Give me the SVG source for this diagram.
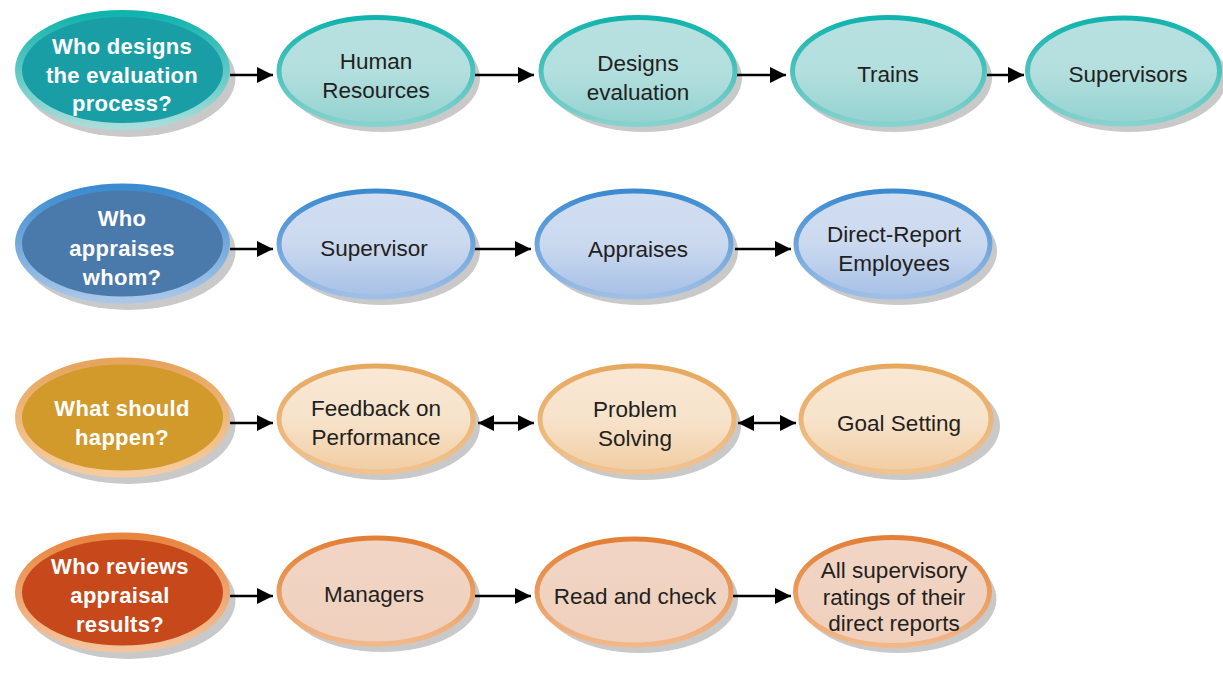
<svg xmlns="http://www.w3.org/2000/svg" width="1223" height="675" viewBox="0 0 1223 675">
<defs>
<linearGradient id="q1s" x1="0" y1="0" x2="0" y2="1"><stop offset="0" stop-color="#10b3ad"/><stop offset="1" stop-color="#a9ddda"/></linearGradient>
<linearGradient id="s1f" x1="0" y1="0" x2="0" y2="1"><stop offset="0" stop-color="#b8e1e0"/><stop offset="0.5" stop-color="#b3dfde"/><stop offset="1" stop-color="#93d2d0"/></linearGradient>
<linearGradient id="s1s" x1="0" y1="0" x2="0" y2="1"><stop offset="0" stop-color="#10b3ad"/><stop offset="1" stop-color="#86d2ce"/></linearGradient>
<linearGradient id="q2s" x1="0" y1="0" x2="0" y2="1"><stop offset="0" stop-color="#3a8bd0"/><stop offset="1" stop-color="#aac7e8"/></linearGradient>
<linearGradient id="s2f" x1="0" y1="0" x2="0" y2="1"><stop offset="0" stop-color="#d2def1"/><stop offset="0.5" stop-color="#cbd9ef"/><stop offset="1" stop-color="#a6c0e6"/></linearGradient>
<linearGradient id="s2s" x1="0" y1="0" x2="0" y2="1"><stop offset="0" stop-color="#3b8ad0"/><stop offset="1" stop-color="#9fbfe6"/></linearGradient>
<linearGradient id="q3s" x1="0" y1="0" x2="0" y2="1"><stop offset="0" stop-color="#e6a45c"/><stop offset="1" stop-color="#f6cc9e"/></linearGradient>
<linearGradient id="s3f" x1="0" y1="0" x2="0" y2="1"><stop offset="0" stop-color="#f9e8d4"/><stop offset="0.5" stop-color="#f7e3cb"/><stop offset="1" stop-color="#f1cda2"/></linearGradient>
<linearGradient id="s3s" x1="0" y1="0" x2="0" y2="1"><stop offset="0" stop-color="#e7a85e"/><stop offset="1" stop-color="#f1c290"/></linearGradient>
<linearGradient id="q4s" x1="0" y1="0" x2="0" y2="1"><stop offset="0" stop-color="#e8853f"/><stop offset="1" stop-color="#f4c49c"/></linearGradient>
<linearGradient id="s4f" x1="0" y1="0" x2="0" y2="1"><stop offset="0" stop-color="#f1d5c5"/><stop offset="1" stop-color="#efd0bd"/></linearGradient>
<linearGradient id="s4s" x1="0" y1="0" x2="0" y2="1"><stop offset="0" stop-color="#e37f36"/><stop offset="1" stop-color="#f2b888"/></linearGradient>
<marker id="ah" markerUnits="userSpaceOnUse" markerWidth="16" markerHeight="16" refX="16" refY="8" orient="auto-start-reverse" viewBox="0 0 16 16"><path d="M0,0 L16,8 L0,16 z" fill="#000"/></marker>
</defs>
<style>
.sh{fill:#c9c9c9}
.q{stroke-width:7}
.s{stroke-width:5}
.qt{font-family:"Liberation Sans",Arial,sans-serif;font-weight:bold;font-size:22px;fill:#fff;text-anchor:middle;letter-spacing:0.3px}
.st{font-family:"Liberation Sans",Arial,sans-serif;font-size:22.5px;fill:#231f20;text-anchor:middle}
.c line{stroke:#000;stroke-width:2.5;marker-end:url(#ah)}
.c line.d{marker-start:url(#ah)}
</style>
<rect width="1223" height="675" fill="#fff"/>

<!-- Row 1 -->
<g id="q1"><ellipse class="sh" cx="128.5" cy="78" rx="107" ry="59"/><ellipse class="q" cx="122.5" cy="70" rx="104" ry="56.5" fill="#1a9ea6" stroke="url(#q1s)"/>
<text class="qt"><tspan x="122" y="54">Who designs</tspan><tspan x="122" y="83">the evaluation</tspan><tspan x="122" y="111">process?</tspan></text></g>
<g id="n_hr"><ellipse class="sh" cx="382" cy="78" rx="98" ry="54"/><ellipse class="s" cx="376" cy="71" rx="97" ry="53.5" fill="url(#s1f)" stroke="url(#s1s)"/>
<text class="st"><tspan x="376" y="69">Human</tspan><tspan x="376" y="98">Resources</tspan></text></g>
<g id="n_de"><ellipse class="sh" cx="644" cy="78" rx="98" ry="54"/><ellipse class="s" cx="638" cy="71" rx="97" ry="53.5" fill="url(#s1f)" stroke="url(#s1s)"/>
<text class="st"><tspan x="638" y="71">Designs</tspan><tspan x="638" y="100">evaluation</tspan></text></g>
<g id="n_tr"><ellipse class="sh" cx="894" cy="78" rx="98" ry="54"/><ellipse class="s" cx="888.5" cy="71" rx="96" ry="53.5" fill="url(#s1f)" stroke="url(#s1s)"/>
<text class="st"><tspan x="888" y="82">Trains</tspan></text></g>
<g id="n_su"><ellipse class="sh" cx="1129" cy="78" rx="98" ry="54"/><ellipse class="s" cx="1123.5" cy="71" rx="96" ry="53" fill="url(#s1f)" stroke="url(#s1s)"/>
<text class="st"><tspan x="1128" y="82">Supervisors</tspan></text></g>

<!-- Row 2 -->
<g id="q2"><ellipse class="sh" cx="128.5" cy="251" rx="107" ry="59"/><ellipse class="q" cx="122.5" cy="243.5" rx="104" ry="56.5" fill="#4a79ab" stroke="url(#q2s)"/>
<text class="qt"><tspan x="122" y="226">Who</tspan><tspan x="122" y="256">appraises</tspan><tspan x="122" y="285">whom?</tspan></text></g>
<g id="n_sv"><ellipse class="sh" cx="382" cy="251" rx="98" ry="54"/><ellipse class="s" cx="376" cy="244" rx="97" ry="53" fill="url(#s2f)" stroke="url(#s2s)"/>
<text class="st"><tspan x="374" y="256">Supervisor</tspan></text></g>
<g id="n_ap"><ellipse class="sh" cx="640" cy="251" rx="98" ry="54"/><ellipse class="s" cx="634" cy="244" rx="97" ry="53" fill="url(#s2f)" stroke="url(#s2s)"/>
<text class="st"><tspan x="638" y="257">Appraises</tspan></text></g>
<g id="n_dr"><ellipse class="sh" cx="899" cy="251" rx="98" ry="54"/><ellipse class="s" cx="893" cy="244" rx="97" ry="53" fill="url(#s2f)" stroke="url(#s2s)"/>
<text class="st"><tspan x="894" y="242">Direct-Report</tspan><tspan x="894" y="271">Employees</tspan></text></g>

<!-- Row 3 -->
<g id="q3"><ellipse class="sh" cx="128.5" cy="425" rx="107" ry="59"/><ellipse class="q" cx="122.5" cy="417.5" rx="104" ry="56.5" fill="#d2992b" stroke="url(#q3s)"/>
<text class="qt"><tspan x="122" y="416">What should</tspan><tspan x="122" y="445">happen?</tspan></text></g>
<g id="n_fb"><ellipse class="sh" cx="382" cy="426" rx="98" ry="54"/><ellipse class="s" cx="376" cy="419" rx="97" ry="53" fill="url(#s3f)" stroke="url(#s3s)"/>
<text class="st"><tspan x="376" y="416">Feedback on</tspan><tspan x="376" y="445">Performance</tspan></text></g>
<g id="n_ps"><ellipse class="sh" cx="643" cy="426" rx="98" ry="54"/><ellipse class="s" cx="637" cy="419" rx="97" ry="53" fill="url(#s3f)" stroke="url(#s3s)"/>
<text class="st"><tspan x="635" y="417">Problem</tspan><tspan x="635" y="446">Solving</tspan></text></g>
<g id="n_gs"><ellipse class="sh" cx="902" cy="426" rx="98" ry="54"/><ellipse class="s" cx="896" cy="419" rx="95" ry="53" fill="url(#s3f)" stroke="url(#s3s)"/>
<text class="st"><tspan x="899" y="431">Goal Setting</tspan></text></g>

<!-- Row 4 -->
<g id="q4"><ellipse class="sh" cx="128.5" cy="600" rx="107" ry="59"/><ellipse class="q" cx="122.5" cy="592.5" rx="104" ry="56.5" fill="#c7491b" stroke="url(#q4s)"/>
<text class="qt"><tspan x="120" y="574">Who reviews</tspan><tspan x="120" y="603">appraisal</tspan><tspan x="120" y="632">results?</tspan></text></g>
<g id="n_mg"><ellipse class="sh" cx="382" cy="598" rx="98" ry="54"/><ellipse class="s" cx="376" cy="591" rx="97" ry="53" fill="url(#s4f)" stroke="url(#s4s)"/>
<text class="st"><tspan x="374" y="602">Managers</tspan></text></g>
<g id="n_rc"><ellipse class="sh" cx="640" cy="599" rx="98" ry="54"/><ellipse class="s" cx="634" cy="592" rx="97" ry="53" fill="url(#s4f)" stroke="url(#s4s)"/>
<text class="st"><tspan x="635" y="604">Read and check</tspan></text></g>
<g id="n_as"><ellipse class="sh" cx="898.5" cy="599" rx="98" ry="54"/><ellipse class="s" cx="892.5" cy="591.5" rx="97" ry="54" fill="url(#s4f)" stroke="url(#s4s)"/>
<text class="st"><tspan x="894" y="578">All supervisory</tspan><tspan x="894" y="605">ratings of their</tspan><tspan x="894" y="631">direct reports</tspan></text></g>

<!-- Connectors -->
<g id="connectors" class="c">
<line x1="230" y1="75" x2="273" y2="75"/>
<line x1="475" y1="75" x2="534" y2="75"/>
<line x1="737" y1="75" x2="786" y2="75"/>
<line x1="987" y1="75" x2="1024" y2="75"/>
<line x1="230" y1="249" x2="273" y2="249"/>
<line x1="475" y1="249" x2="531" y2="249"/>
<line x1="735" y1="249" x2="791" y2="249"/>
<line x1="230" y1="423" x2="273" y2="423"/>
<line class="d" x1="478" y1="423" x2="534" y2="423"/>
<line class="d" x1="738" y1="423" x2="796" y2="423"/>
<line x1="230" y1="596" x2="273" y2="596"/>
<line x1="475" y1="596" x2="531" y2="596"/>
<line x1="733" y1="596" x2="791" y2="596"/>
</g>
</svg>
